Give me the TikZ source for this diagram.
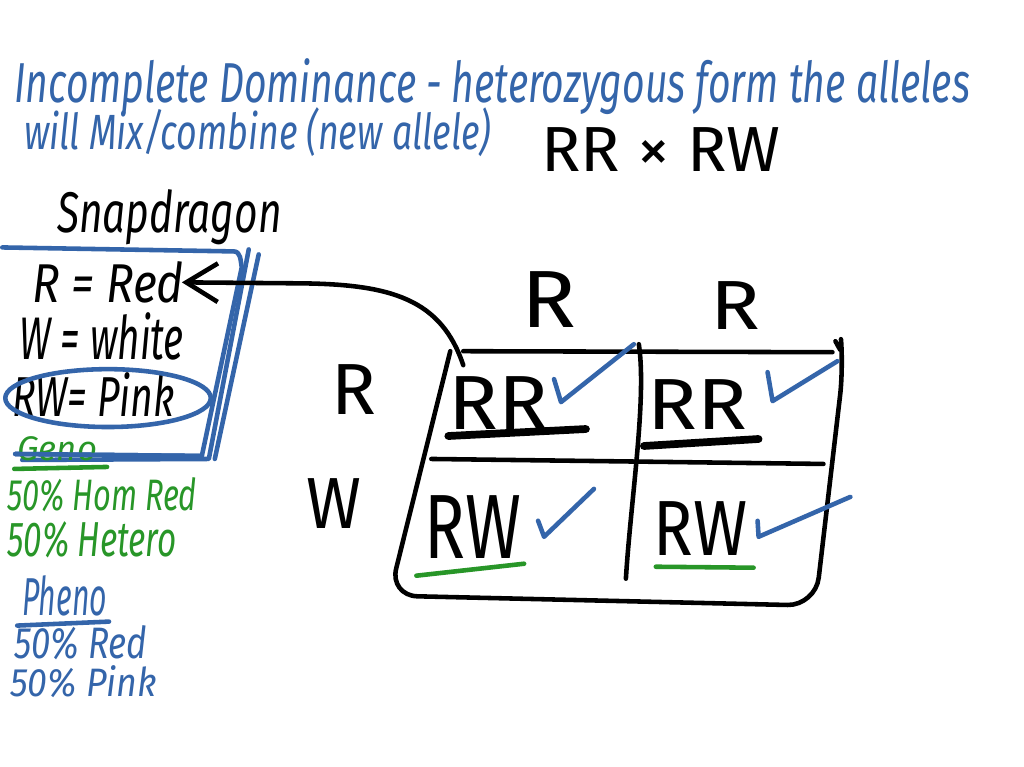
\documentclass[tikz,border=0pt]{standalone}
\usepackage{fontspec}
\setmainfont{Fira Sans}
\usepackage{graphicx}
\usetikzlibrary{arrows.meta}
\definecolor{pen}{RGB}{52,101,170}
\definecolor{hl}{RGB}{40,150,40}
\newlength{\pxu}\setlength{\pxu}{0.01cm}
\newcommand{\hw}[3]{\resizebox{#1\pxu}{#2\pxu}{#3}}

\begin{document}
\begin{tikzpicture}[x=0.01cm,y=-0.01cm,line cap=round,line join=round]%

\fill[white] (0,0) rectangle (1024,768);

      \tikzstyle{every node}=[inner sep=0,outer sep=0,anchor=base west]
      \tikzstyle{ink}=[line width=1.3pt]
      \tikzstyle{blue}=[text=pen,font=\itshape]
      \tikzstyle{green}=[text=hl,font=\itshape]
      \tikzstyle{black}=[text=black,font=\itshape]

% heading
\node[blue] (head1) at (12,103) {\hw{958}{44}{Incomplete Dominance - heterozygous form the alleles}};
\node[blue] (head2) at (22,150) {\hw{468}{42}{will Mix/combine (new allele)}};
\node[text=black] (cross) at (540,172) {\hw{240}{44}{RR × RW}};

% key
\node[black] (snap) at (55,233) {\hw{225}{43}{Snapdragon}};
\node[black] (red) at (30,303) {\hw{152}{41}{R = Red}};
\node[black] (white) at (17,360) {\hw{165}{47}{W = white}};
\node[black] (pink) at (10,417) {\hw{163}{44}{RW= Pink}};

\draw[ink,pen] (0,248) -- (232,252) to[out=0,in=100] (240,268) -- (200,457) -- (13,455);
\draw[ink,pen] (20,461) -- (207,460) -- (247,250);
\draw[ink,pen] (257,255) -- (213,460);
\draw[ink,pen] (106,399) ellipse (103 and 29);

% genotypes / phenotypes
\node[green] (geno) at (15,462) {\hw{80}{24}{Geno}};
\draw[ink,hl] (12,470) -- (105,468);
\draw[ink,pen] (13,455) -- (200,457);
\node[green] (hom) at (5,512) {\hw{190}{33}{50\% Hom Red}};
\node[green] (het) at (5,558) {\hw{170}{35}{50\% Hetero}};

\node[blue] (pheno) at (20,617) {\hw{85}{40}{Pheno}};
\draw[ink,pen] (15,627) -- (107,623);
\node[blue] (pred) at (12,660) {\hw{133}{33}{50\% Red}};
\node[blue] (ppink) at (8,698) {\hw{147}{31}{50\% Pink}};

% punnett square
\node[text=black] (top1) at (520,328) {\hw{55}{56}{R}};
\node[text=black] (top2) at (710,330) {\hw{50}{48}{R}};
\node[text=black] (left1) at (330,415) {\hw{45}{50}{R}};
\node[text=black] (left2) at (305,530) {\hw{55}{50}{W}};

\draw[ink] (462,352) -- (832,353);
\draw[ink,rounded corners=8] (449,352) -- (388,597) -- (815,607) -- (843,368) to[out=95,in=-60] (835,342);
\draw[ink] (430,460) -- (823,465);
\draw[ink] (638,345) .. controls (646,400) and (630,500) .. (625,580);

\node[text=black] (c11) at (447,430) {\hw{100}{53}{RR}};
\node[text=black] (c12) at (647,430) {\hw{100}{50}{RR}};
\node[text=black] (c21) at (423,560) {\hw{97}{63}{RW}};
\node[text=black] (c22) at (653,557) {\hw{94}{54}{RW}};

\draw[line width=2.2pt] (447,437) -- (585,430);
\draw[line width=2.2pt] (643,447) -- (758,440);
\draw[ink,hl] (415,577) -- (523,565);
\draw[ink,hl] (655,568) -- (753,569);

\draw[ink,pen] (553,380) -- (560,403) -- (633,345);
\draw[ink,pen] (767,373) -- (772,402) -- (837,362);
\draw[ink,pen] (537,522) -- (543,538) -- (593,490);
\draw[ink,pen] (757,522) -- (758,538) -- (850,498);

% arrow back to the key
\coordinate (corner) at (462,366);
\coordinate (tip) at (180,283);
\draw[ink,-{Straight Barb[length=9pt,width=11pt]}] (corner) .. controls (440,300) and (390,285) .. (300,284) -- (tip);

\end{tikzpicture}
\end{document}
